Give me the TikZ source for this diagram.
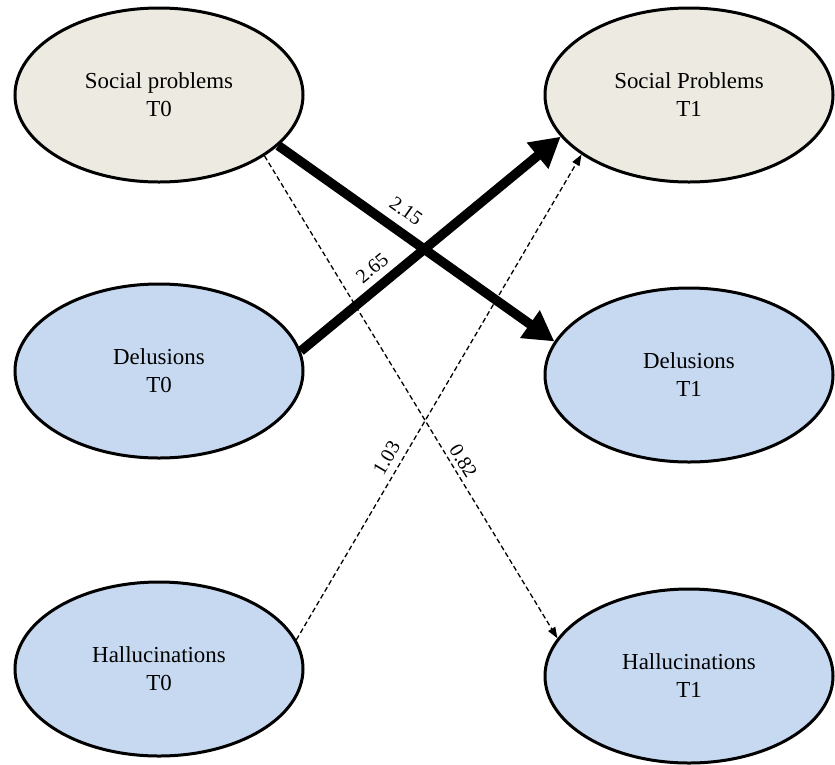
\documentclass[tikz,border=0pt]{standalone}
\usepackage{fontspec}
\setmainfont{Liberation Serif}
\usetikzlibrary{shapes.geometric, positioning, arrows.meta}
\definecolor{socialfill}{RGB}{237,235,225}
\definecolor{symptomfill}{RGB}{198,217,240}
\tikzset{
node distance=530pt, % distance between the T0 column and the T1 column
factor/.style={ellipse, draw, line width=3pt, minimum width=288pt, minimum height=174pt, inner sep=0pt, align=center, font=\fontsize{22.9}{28}\selectfont}, % every ellipse
social/.style={factor, fill=socialfill}, % social problems
symptom/.style={factor, fill=symptomfill}, % delusions and hallucinations
strong/.style={line width=9.5pt, -{Triangle[length=30pt,width=32pt]}}, % big coefficients
weak/.style={line width=1.3pt, dash pattern=on 5pt off 3pt, -{Triangle[length=11pt,width=8pt]}}, % small coefficients
coef/.style={sloped, font=\fontsize{20}{24}\selectfont, inner sep=2pt}, % text on the arrows
}

\begin{document}
\begin{tikzpicture}[x=1pt, y=1pt]
                \useasboundingbox (0,0) rectangle (835,-764);
                \node[social] (spT0) at (159,-95) {Social problems\\T0};
                \node[social, right of=spT0] (spT1) {Social Problems\\T1};
                \node[symptom, node distance=276pt, below of=spT0] (delT0) {Delusions\\T0};
                \node[symptom, node distance=298pt, below of=delT0] (halT0) {Hallucinations\\T0};
                \node[symptom, node distance=280pt, below of=spT1] (delT1) {Delusions\\T1};
                \node[symptom, node distance=301pt, below of=delT1] (halT1) {Hallucinations\\T1};
                \draw
                    (spT0.-30) edge[weak] node[coef, pos=0.645, above=2pt] {0.82} (halT1.164)
                    (halT0.12) edge[weak] node[coef, pos=0.36, above=5pt] {1.03} (spT1.-151)
                    (spT0.-23) edge[strong] node[coef, pos=0.42, above=7pt] {2.15} (delT1.166)
                    (delT0.8) edge[strong] node[coef, pos=0.32, above=5pt] {2.65} (spT1.-162.6)
                    ;
                \end{tikzpicture}
\end{document}
